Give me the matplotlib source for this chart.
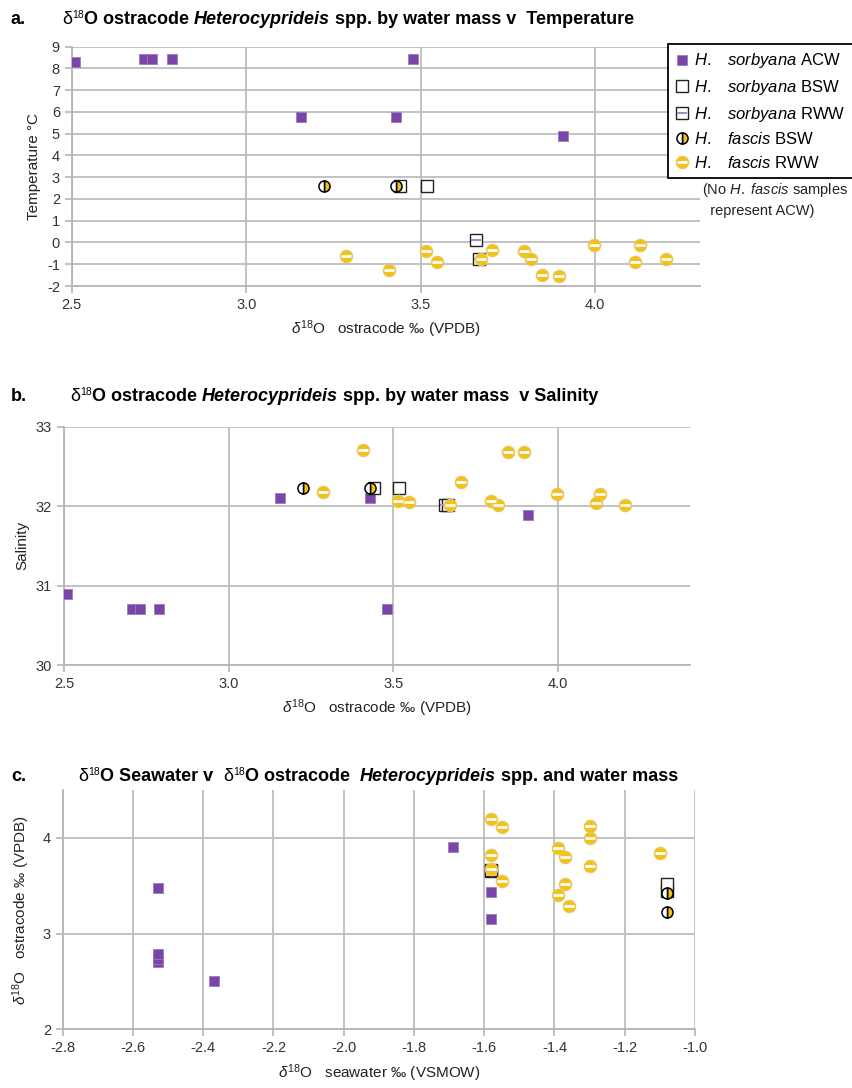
import matplotlib
matplotlib.use("Agg")
import matplotlib.pyplot as plt

plt.rcParams['font.family'] = ['Liberation Sans', 'DejaVu Sans']
plt.rcParams['mathtext.fontset'] = 'custom'
plt.rcParams['mathtext.rm'] = 'Liberation Sans'
plt.rcParams['mathtext.it'] = 'Liberation Sans:italic'
plt.rcParams['mathtext.bf'] = 'Liberation Sans:bold'
plt.rcParams['axes.unicode_minus'] = False

# H. sorbyana, Atlantic Coastal Water
ost_acw = [2.509, 2.707, 2.73, 2.787, 3.479, 3.157, 3.43, 3.907]
temp_acw = [8.3, 8.42, 8.42, 8.42, 8.42, 5.77, 5.77, 4.89]
sal_acw = [30.89, 30.70, 30.70, 30.70, 30.70, 32.10, 32.10, 31.89]
sw_acw = [-2.37, -2.53, -2.53, -2.53, -2.53, -1.58, -1.58, -1.69]

# H. sorbyana, BSW
ost_sbsw = [3.44, 3.517]
temp_sbsw = [2.61, 2.61]
sal_sbsw = [32.23, 32.23]
sw_sbsw = [-1.08, -1.08]

# H. sorbyana, RWW
ost_srww = [3.657, 3.666]
temp_srww = [0.11, -0.76]
sal_srww = [32.02, 32.02]
sw_srww = [-1.58, -1.58]

# H. fascis, BSW
ost_fbsw = [3.224, 3.428]
temp_fbsw = [2.61, 2.61]
sal_fbsw = [32.23, 32.23]
sw_fbsw = [-1.08, -1.08]

# H. fascis, RWW
ost_frww = [3.285, 3.408, 3.515, 3.547, 3.673, 3.705, 3.796, 3.816, 3.847, 3.895,
            3.996, 4.127, 4.115, 4.202]
temp_frww = [-0.61, -1.27, -0.38, -0.91, -0.78, -0.35, -0.38, -0.78, -1.48, -1.53,
             -0.12, -0.12, -0.91, -0.78]
sal_frww = [32.18, 32.71, 32.06, 32.05, 32.02, 32.30, 32.07, 32.02, 32.68, 32.68,
            32.15, 32.15, 32.04, 32.02]
sw_frww = [-1.36, -1.39, -1.37, -1.55, -1.58, -1.30, -1.37, -1.58, -1.10, -1.39,
           -1.30, -1.30, -1.55, -1.58]

PURPLE = '#7a45a6'
YELLOW = '#f3c218'
GRID = '#bdbdbd'
W, H = 853, 1088

fig = plt.figure(figsize=(W / 100, H / 100), dpi=100)


def px_axes(left, right, top, bottom):
    return fig.add_axes([left / W, 1 - bottom / H, (right - left) / W, (bottom - top) / H])


def draw_series(ax, xs):
    acw, sbsw, srww, fbsw, frww = xs
    h1 = ax.plot(*acw, ls='none', marker='s', ms=7.5, mfc=PURPLE, mec='#9a7cbf', mew=0.6, zorder=3)[0]
    h2 = ax.plot(*sbsw, ls='none', marker='s', ms=8, mfc='white', mec='#222222', mew=1.0, zorder=4)[0]
    h3a = ax.plot(*srww, ls='none', marker='s', ms=8, mfc='white', mec='#222222', mew=1.0, zorder=5)[0]
    h3b = ax.plot(*srww, ls='none', marker='_', ms=7, mec='#a58ccf', mew=1.5, zorder=5)[0]
    h4 = ax.plot(*fbsw, ls='none', marker='o', ms=8, fillstyle='right', mfc=YELLOW,
                 mfcalt='white', mec='black', mew=1.1, zorder=6)[0]
    h5a = ax.plot(*frww, ls='none', marker='o', ms=9, mfc=YELLOW, mec='#e8c866', mew=0.8, zorder=7)[0]
    h5b = ax.plot(*frww, ls='none', marker='_', ms=6.5, mec='white', mew=2.0, zorder=7)[0]
    return [h1, h2, (h3a, h3b), h4, (h5a, h5b)]


def style_axes(ax):
    ax.grid(True, color=GRID, lw=1.3)
    ax.set_axisbelow(True)
    for s in ['top', 'right']:
        ax.spines[s].set_visible(False)
    for s in ['left', 'bottom']:
        ax.spines[s].set_color('#b5b5b5')
        ax.spines[s].set_linewidth(1.3)
    ax.tick_params(colors='#b5b5b5', labelcolor='#333333', labelsize=10.5, length=5, width=1.2)


def rich_title(ax, x, y, parts, size=13):
    base = ax.text(x / W, 1 - y / H, parts[0][0], transform=fig.transFigure,
                   va='bottom', ha='left', fontsize=size, **parts[0][1])
    prev = base
    for s, kw in parts[1:]:
        kw = dict(kw)
        rise = kw.pop('rise', 0)
        fs = kw.pop('fs', size)
        prev = ax.annotate(s, xy=(1, 0), xycoords=(prev, base), xytext=(0, rise),
                           textcoords='offset points', va='bottom', ha='left',
                           fontsize=fs, annotation_clip=False, **kw)
    return base


ost_label = r'$\delta^{18}$O   ostracode ‰ (VPDB)'
LABEL_KW = dict(fontsize=11, color='#222222')

# a. temperature
ax1 = px_axes(71.7, 700, 46.7, 286)
handles = draw_series(ax1, [(ost_acw, temp_acw), (ost_sbsw, temp_sbsw), (ost_srww, temp_srww),
                            (ost_fbsw, temp_fbsw), (ost_frww, temp_frww)])
ax1.set_xlim(2.5, 4.3)
ax1.set_ylim(-2, 9)
ax1.set_xticks([2.5, 3.0, 3.5, 4.0])
ax1.set_xticklabels(['2.5', '3.0', '3.5', '4.0'])
ax1.set_yticks(range(-2, 10))
style_axes(ax1)
ax1.set_ylabel('Temperature °C', labelpad=4, **LABEL_KW)
ax1.set_xlabel(ost_label, labelpad=5, **LABEL_KW)
fig.text(11 / W, 1 - 28 / H, 'a.', fontsize=13, fontweight='bold', va='bottom')
rich_title(ax1, 62, 28, [('δ', {}), ('18', {'fs': 7.5, 'rise': 5.5}),
                         ('O ostracode ', {'fontweight': 'bold'}),
                         ('Heterocyprideis', {'fontweight': 'bold', 'style': 'italic'}),
                         (' spp. by water mass v  Temperature', {'fontweight': 'bold'})])

labels = [r'$\mathit{H.}$   $\mathit{sorbyana}$ ACW', r'$\mathit{H.}$   $\mathit{sorbyana}$ BSW',
          r'$\mathit{H.}$   $\mathit{sorbyana}$ RWW', r'$\mathit{H.}$   $\mathit{fascis}$ BSW',
          r'$\mathit{H.}$   $\mathit{fascis}$ RWW']
leg = fig.legend(handles, labels, loc='upper left', bbox_to_anchor=(668 / W, 1 - 44 / H),
                 fontsize=12, frameon=True, fancybox=False, edgecolor='black',
                 framealpha=1, handlelength=0.8, handletextpad=0.3, labelspacing=0.45,
                 borderpad=0.45, borderaxespad=0)
leg.get_frame().set_linewidth(1.3)
fig.text(702 / W, 1 - 181 / H, r'(No $\mathit{H.}$ $\mathit{fascis}$ samples' + '\n' + '  represent ACW)',
         fontsize=10.5, va='top', ha='left', color='#222222', linespacing=1.45)

# b. salinity
ax2 = px_axes(64, 690, 426.7, 665)
draw_series(ax2, [(ost_acw, sal_acw), (ost_sbsw, sal_sbsw), (ost_srww, sal_srww),
                  (ost_fbsw, sal_fbsw), (ost_frww, sal_frww)])
ax2.set_xlim(2.5, 4.4)
ax2.set_ylim(30, 33)
ax2.set_xticks([2.5, 3.0, 3.5, 4.0])
ax2.set_xticklabels(['2.5', '3.0', '3.5', '4.0'])
ax2.set_yticks([30, 31, 32, 33])
style_axes(ax2)
ax2.set_ylabel('Salinity', labelpad=5, **LABEL_KW)
ax2.set_xlabel(ost_label, labelpad=5, **LABEL_KW)
fig.text(11 / W, 1 - 405 / H, 'b.', fontsize=13, fontweight='bold', va='bottom')
rich_title(ax2, 70, 405, [('δ', {}), ('18', {'fs': 7.5, 'rise': 5.5}),
                          ('O ostracode ', {'fontweight': 'bold'}),
                          ('Heterocyprideis', {'fontweight': 'bold', 'style': 'italic'}),
                          (' spp. by water mass  v Salinity', {'fontweight': 'bold'})])

# c. seawater
ax3 = px_axes(62.7, 695, 790, 1029.3)
draw_series(ax3, [(sw_acw, ost_acw), (sw_sbsw, ost_sbsw), (sw_srww, ost_srww),
                  (sw_fbsw, ost_fbsw), (sw_frww, ost_frww)])
ax3.set_xlim(-2.8, -1.0)
ax3.set_ylim(2, 4.5)
xt = [-2.8, -2.6, -2.4, -2.2, -2.0, -1.8, -1.6, -1.4, -1.2, -1.0]
ax3.set_xticks(xt)
ax3.set_xticklabels([f'{v:.1f}' for v in xt])
ax3.set_yticks([2, 3, 4])
style_axes(ax3)
ax3.set_ylabel(ost_label, labelpad=8, **LABEL_KW)
ax3.set_xlabel(r'$\delta^{18}$O   seawater ‰ (VSMOW)', labelpad=5, **LABEL_KW)
fig.text(11 / W, 1 - 785 / H, 'c.', fontsize=13, fontweight='bold', va='bottom')
rich_title(ax3, 78, 785, [('δ', {}), ('18', {'fs': 7.5, 'rise': 5.5}),
                          ('O Seawater v  ', {'fontweight': 'bold'}),
                          ('δ', {}), ('18', {'fs': 7.5, 'rise': 5.5}),
                          ('O ostracode  ', {'fontweight': 'bold'}),
                          ('Heterocyprideis', {'fontweight': 'bold', 'style': 'italic'}),
                          (' spp. and water mass', {'fontweight': 'bold'})])

fig.savefig('out.png', dpi=100)
